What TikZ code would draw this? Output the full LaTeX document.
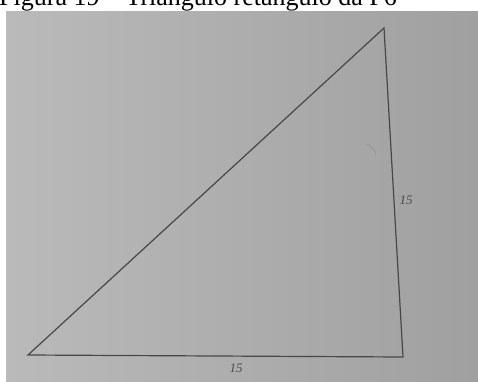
\documentclass[tikz,border=0pt]{standalone}
\usepackage{fontspec}
\setmainfont{Liberation Serif}
\begin{document}
\begin{tikzpicture}[x=1pt,y=1pt,
  side/.style={draw=black!72,line width=1.2pt,line cap=round},
  lbl/.style={font=\itshape\fontsize{13}{13}\selectfont,text=black!70,inner sep=0pt}]
\useasboundingbox (0,0) rectangle (478,381);
\fill[white] (0,0) rectangle (478,381);
\begin{scope}
\clip (0,0) rectangle (478,381);
\node[anchor=base west,inner sep=0pt,font=\fontsize{26}{26}\selectfont] (cap) at (-1,375) {Figura 19 -- Triângulo retângulo da P6};
\end{scope}
\shade[left color={rgb,255:red,186;green,186;blue,186},right color={rgb,255:red,160;green,160;blue,160}] (6,0) rectangle (478,369);
\coordinate (A) at (28,26);
\coordinate (B) at (384,353);
\coordinate (C) at (403,24);
\draw[side] (A) -- (B) -- (C) -- cycle;
\node[lbl] (l1) at (406,181) {15};
\node[lbl] (l2) at (236,13) {15};
\draw[black!45,line width=0.4pt] (366,237) to[bend left=30] (376,226);
\end{tikzpicture}
\end{document}
